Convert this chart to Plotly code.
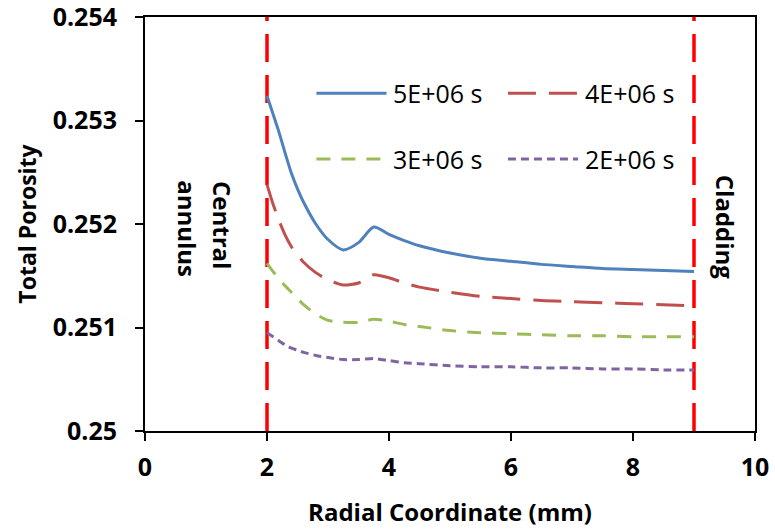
import plotly.graph_objects as go

# Radial positions (mm)
radius = [2.0, 2.1, 2.2, 2.3, 2.4, 2.5, 2.6, 2.8, 3.0, 3.25, 3.5, 3.75, 4.0,
          4.25, 4.5, 5.0, 5.5, 6.0, 6.5, 7.0, 7.5, 8.0, 8.5, 9.0]

# Total porosity profiles at four times
por_5e6 = [0.25324, 0.25306, 0.25288, 0.25268, 0.25249, 0.25234, 0.25221,
           0.25200, 0.25185, 0.25175, 0.25182, 0.25197, 0.25190, 0.25184,
           0.25179, 0.25172, 0.25167, 0.25164, 0.25161, 0.25159, 0.25157,
           0.25156, 0.25155, 0.25154]
por_4e6 = [0.25238, 0.25219, 0.25203, 0.25189, 0.25178, 0.25170, 0.25163,
           0.25153, 0.25146, 0.25141, 0.25143, 0.25151, 0.25148, 0.25143,
           0.25139, 0.25134, 0.25130, 0.25128, 0.25126, 0.25125, 0.25124,
           0.25123, 0.25122, 0.25121]
por_3e6 = [0.25162, 0.25154, 0.25147, 0.25140, 0.25134, 0.25128, 0.25122,
           0.25113, 0.25107, 0.25105, 0.25105, 0.25108, 0.25106, 0.25103,
           0.25101, 0.25097, 0.25095, 0.25094, 0.25093, 0.25092, 0.25092,
           0.25091, 0.25091, 0.25091]
por_2e6 = [0.25095, 0.25091, 0.25087, 0.25083, 0.25080, 0.25078, 0.25076,
           0.25073, 0.25071, 0.25069, 0.25069, 0.25070, 0.25068, 0.25066,
           0.25065, 0.25063, 0.25062, 0.25062, 0.25061, 0.25061, 0.25060,
           0.25060, 0.25059, 0.25059]

series_names = ["5E+06 s", "4E+06 s", "3E+06 s", "2E+06 s"]
series_values = [por_5e6, por_4e6, por_3e6, por_2e6]

# Domain boundaries (mm): central annulus edge and cladding edge
boundaries = [2, 9]
y_range = [0.25, 0.254]
x_ticks = [0, 2, 4, 6, 8, 10]
y_ticks = [0.25, 0.251, 0.252, 0.253, 0.254]

colors = ["#4F81BD", "#C0504D", "#9BBB59", "#8064A2"]
dashes = ["solid", "28px,13px", "14px,11px", "8px,5px"]

FONT = "Open Sans"

fig = go.Figure()

for xb in boundaries:
    fig.add_trace(go.Scatter(
        x=[xb, xb], y=y_range, mode="lines",
        line=dict(color="#FF0000", width=3.5, dash="28px,13px"),
        showlegend=False, hoverinfo="skip"))

for name, vals, c, d in zip(series_names, series_values, colors, dashes):
    fig.add_trace(go.Scatter(
        x=radius, y=vals, mode="lines", name=name,
        line=dict(color=c, width=3, dash=d, shape="spline", smoothing=0.7),
        showlegend=False))

# Legend: two rows of two entries, sample line followed by label
legend_pos = [(0.281, 0.816), (0.595, 0.816), (0.281, 0.657), (0.595, 0.657)]
sample_len = 0.115
shapes = []
annotations = []
for (lx, ly), name, c, d in zip(legend_pos, series_names, colors, dashes):
    shapes.append(dict(type="line", xref="paper", yref="paper",
                       x0=lx, x1=lx + sample_len, y0=ly, y1=ly,
                       line=dict(color=c, width=3, dash=d)))
    annotations.append(dict(xref="paper", yref="paper", x=lx + sample_len + 0.008,
                            y=ly, text=name, showarrow=False, xanchor="left",
                            yanchor="middle", font=dict(family=FONT, size=25, color="black")))

# Region labels, written vertically
region_labels = [("Central", 0.126, 0.498), ("annulus", 0.0705, 0.490), ("Cladding", 0.951, 0.493)]
for text, ax, ay in region_labels:
    annotations.append(dict(xref="paper", yref="paper", x=ax, y=ay,
                            text=f"<b>{text}</b>", textangle=90, showarrow=False,
                            xanchor="center", yanchor="middle",
                            font=dict(family=FONT, size=24, color="black")))

fig.update_layout(
    width=775, height=531,
    margin=dict(l=145, r=20, t=17, b=100),
    paper_bgcolor="white", plot_bgcolor="white",
    showlegend=False,
    shapes=shapes, annotations=annotations,
    font=dict(family=FONT, color="black"),
)

fig.update_xaxes(
    range=[0, 10], tickvals=x_ticks, ticktext=[f"<b>{v}</b>" for v in x_ticks],
    ticks="outside", ticklen=8, tickwidth=2, tickcolor="black",
    showline=True, linecolor="black", linewidth=2, mirror=True,
    showgrid=False, zeroline=False, automargin=False,
    ticklabelstandoff=5, ticklabeloverflow="allow",
    tickfont=dict(family=FONT, size=25, color="black"),
    title=dict(text="<b>Radial Coordinate (mm)</b>", standoff=22,
               font=dict(family=FONT, size=24, color="black")),
)
fig.update_yaxes(
    range=y_range, tickvals=y_ticks,
    ticktext=[f"<b>{v:g}</b>" for v in y_ticks],
    ticks="outside", ticklen=8, tickwidth=2, tickcolor="black",
    showline=True, linecolor="black", linewidth=2, mirror=True,
    showgrid=False, zeroline=False, automargin=False,
    ticklabelstandoff=13, ticklabeloverflow="allow",
    tickfont=dict(family=FONT, size=25, color="black"),
    title=dict(text="<b>Total Porosity</b>", standoff=10,
               font=dict(family=FONT, size=23, color="black")),
)

fig.write_html("out.html")
